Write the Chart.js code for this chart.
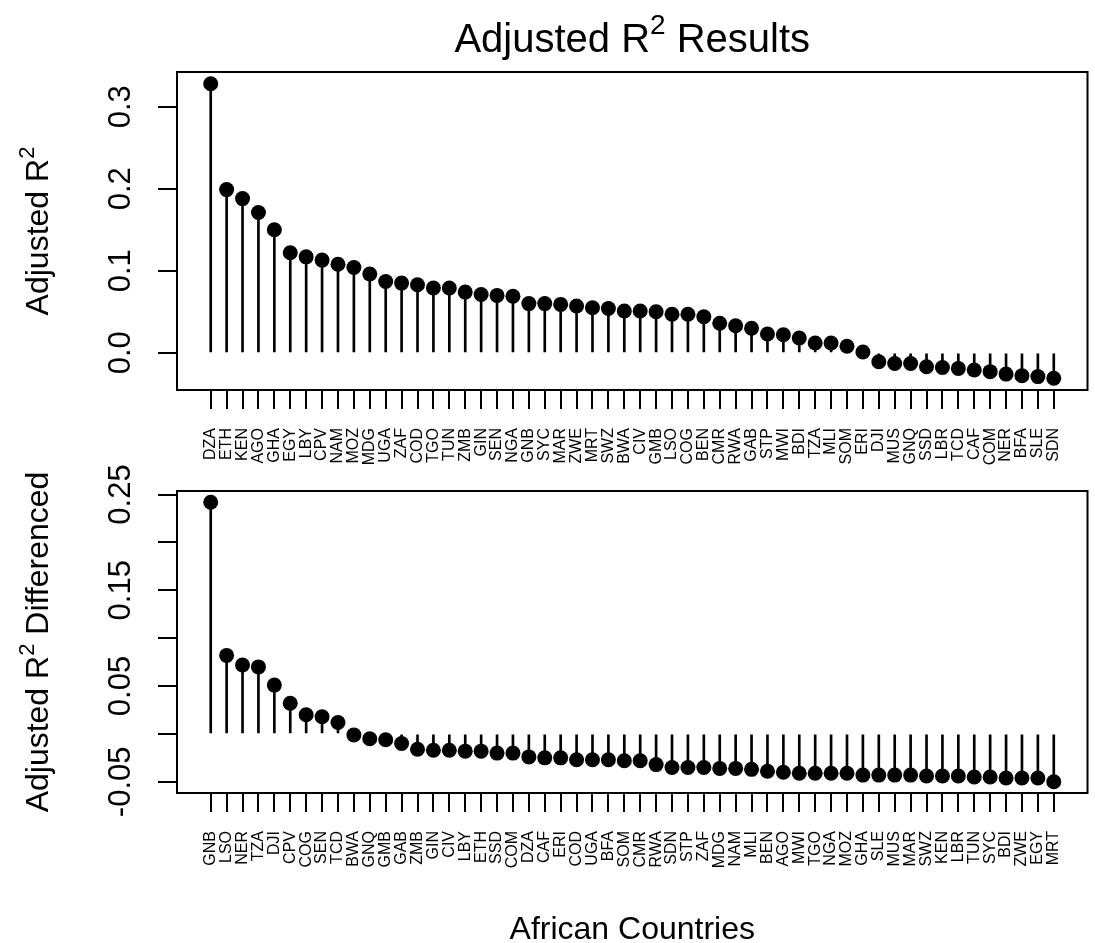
<!DOCTYPE html>
<html lang="en">
<head>
  <meta charset="UTF-8">
  <title>Adjusted R2 Results</title>
  <script src="https://cdn.jsdelivr.net/npm/chart.js"></script>
  <style>
    body { margin: 0; background: #fff; }
    #wrap { position: relative; width: 1095px; height: 943px; }
    #wrap canvas { position: absolute; left: 0; }
  </style>
</head>
<body>
<div id="wrap">
  <canvas id="levelChart" width="1095" height="480" style="top:0"></canvas>
  <canvas id="diffChart" width="1095" height="523" style="top:420px"></canvas>
</div>

<script>
  // Datos
  const levelCountries = ['DZA','ETH','KEN','AGO','GHA','EGY','LBY','CPV','NAM','MOZ','MDG','UGA','ZAF','COD','TGO','TUN','ZMB','GIN','SEN','NGA','GNB','SYC','MAR','ZWE','MRT','SWZ','BWA','CIV','GMB','LSO','COG','BEN','CMR','RWA','GAB','STP','MWI','BDI','TZA','MLI','SOM','ERI','DJI','MUS','GNQ','SSD','LBR','TCD','CAF','COM','NER','BFA','SLE','SDN'];
  const levelR2 = [0.328,0.199,0.188,0.171,0.150,0.122,0.117,0.113,0.108,0.104,0.096,0.087,0.085,0.083,0.079,0.079,0.074,0.071,0.070,0.069,0.060,0.060,0.059,0.057,0.055,0.054,0.051,0.051,0.050,0.047,0.047,0.044,0.036,0.033,0.030,0.023,0.022,0.018,0.012,0.012,0.008,0.001,-0.011,-0.013,-0.013,-0.017,-0.018,-0.019,-0.021,-0.023,-0.026,-0.028,-0.029,-0.031];

  const diffCountries = ['GNB','LSO','NER','TZA','DJI','CPV','COG','SEN','TCD','BWA','GNQ','GMB','GAB','ZMB','GIN','CIV','LBY','ETH','SSD','COM','DZA','CAF','ERI','COD','UGA','BFA','SOM','CMR','RWA','SDN','STP','ZAF','MDG','NAM','MLI','BEN','AGO','MWI','TGO','NGA','MOZ','GHA','SLE','MUS','MAR','SWZ','KEN','LBR','TUN','SYC','BDI','ZWE','EGY','MRT'];
  const diffR2 = [0.242,0.082,0.072,0.070,0.051,0.032,0.020,0.018,0.012,-0.001,-0.005,-0.006,-0.010,-0.016,-0.017,-0.017,-0.018,-0.018,-0.020,-0.020,-0.024,-0.025,-0.025,-0.027,-0.027,-0.027,-0.028,-0.028,-0.032,-0.035,-0.035,-0.035,-0.036,-0.036,-0.037,-0.039,-0.040,-0.041,-0.041,-0.041,-0.041,-0.043,-0.043,-0.043,-0.043,-0.044,-0.044,-0.044,-0.045,-0.045,-0.046,-0.046,-0.046,-0.050];

  const levelTicks = [0, 0.1, 0.2, 0.3];
  const levelTickLabels = ['0.0', '0.1', '0.2', '0.3'];
  const diffTicks = [-0.05, 0, 0.05, 0.10, 0.15, 0.20, 0.25];
  const diffTickLabels = ['-0.05', '', '0.05', '', '0.15', '', '0.25'];

  const FONT = '"Liberation Sans", Arial, sans-serif';

  // rango como en R (4% extra a cada lado)
  function rRange(lo, hi) {
    const d = (hi - lo) * 0.04;
    return [lo - d, hi + d];
  }

  // texto con superíndice: las partes impares van arriba y más pequeñas
  function drawSup(ctx, parts, size, cx, cy) {
    const fonts = parts.map((p, i) => (i % 2 ? Math.round(size * 0.7) : size) + 'px ' + FONT);
    const widths = parts.map((p, i) => { ctx.font = fonts[i]; return ctx.measureText(p).width; });
    let x = cx - widths.reduce((s, w) => s + w, 0) / 2;
    ctx.textAlign = 'left';
    parts.forEach((p, i) => {
      ctx.font = fonts[i];
      ctx.fillText(p, x, i % 2 ? cy - size * 0.45 : cy);
      x += widths[i];
    });
  }

  // caja, etiquetas del eje y y títulos al estilo de R
  const rText = {
    id: 'rText',
    afterDraw(chart, args, o) {
      const { ctx, chartArea: a } = chart;
      const y = chart.scales.y;
      ctx.save();
      ctx.strokeStyle = '#000';
      ctx.lineWidth = 2;
      ctx.strokeRect(a.left, a.top, a.right - a.left, a.bottom - a.top);

      ctx.fillStyle = '#000';
      ctx.textBaseline = 'alphabetic';
      ctx.textAlign = 'center';
      ctx.font = '31px ' + FONT;
      o.tickValues.forEach((v, i) => {
        if (!o.tickLabels[i]) return;
        ctx.save();
        ctx.translate(130, y.getPixelForValue(v));
        ctx.rotate(-Math.PI / 2);
        ctx.fillText(o.tickLabels[i], 0, 0);
        ctx.restore();
      });

      ctx.save();
      ctx.translate(48, (a.top + a.bottom) / 2);
      ctx.rotate(-Math.PI / 2);
      drawSup(ctx, o.yTitle, 32, 0, 0);
      ctx.restore();

      if (o.title) drawSup(ctx, o.title, 40, (a.left + a.right) / 2, 52);
      if (o.xTitle) {
        ctx.textAlign = 'center';
        ctx.font = '32px ' + FONT;
        ctx.fillText(o.xTitle, (a.left + a.right) / 2, o.xTitleY);
      }
      ctx.restore();
    }
  };

  function lollipop(id, countries, values, tickValues, tickLabels, padTop, xHeight, text) {
    const points = values.map((v, i) => ({ x: i, y: v }));
    const [xMin, xMax] = rRange(0, countries.length - 1);
    const [yMin, yMax] = rRange(Math.min(...values), Math.max(...values));
    const tickGrid = { drawOnChartArea: false, drawTicks: true, tickLength: 19, color: '#000', lineWidth: 2, offset: false };

    return new Chart(document.getElementById(id), {
      type: 'scatter',
      data: {
        datasets: [
          { type: 'scatter', data: points, pointRadius: 7.5, pointHoverRadius: 7.5, backgroundColor: '#000', borderWidth: 0, order: 0 },
          { type: 'bar', data: points, backgroundColor: '#000', barThickness: 2, order: 1 }
        ]
      },
      options: {
        responsive: false,
        animation: false,
        devicePixelRatio: 1,
        events: [],
        layout: { padding: { left: 0, right: 6, top: padTop, bottom: 0 } },
        plugins: { legend: { display: false }, tooltip: { enabled: false }, rText: Object.assign({ tickValues, tickLabels }, text) },
        scales: {
          x: {
            type: 'linear', min: xMin, max: xMax, offset: false,
            afterBuildTicks: s => { s.ticks = countries.map((c, i) => ({ value: i })); },
            afterFit: s => { s.height = xHeight; s.paddingLeft = 0; s.paddingRight = 0; },
            grid: tickGrid,
            border: { display: false },
            ticks: {
              autoSkip: false, minRotation: 90, maxRotation: 90, padding: 19, color: '#000',
              font: { family: FONT, size: 16 },
              callback: v => countries[v]
            }
          },
          y: {
            type: 'linear', min: yMin, max: yMax,
            afterBuildTicks: s => { s.ticks = tickValues.map(v => ({ value: v })); },
            afterFit: s => { s.width = 177; s.paddingTop = 0; s.paddingBottom = 0; },
            grid: tickGrid,
            border: { display: false },
            ticks: { display: false }
          }
        }
      },
      plugins: [rText]
    });
  }

  lollipop('levelChart', levelCountries, levelR2, levelTicks, levelTickLabels, 72, 90, {
    yTitle: ['Adjusted R', '2'],
    title: ['Adjusted R', '2', ' Results']
  });

  // el lienzo de abajo empieza en y=420 y se solapa con el de arriba (fondo transparente)
  lollipop('diffChart', diffCountries, diffR2, diffTicks, diffTickLabels, 71, 150, {
    yTitle: ['Adjusted R', '2', ' Differenced'],
    xTitle: 'African Countries',
    xTitleY: 519
  });
</script>
</body>
</html>
